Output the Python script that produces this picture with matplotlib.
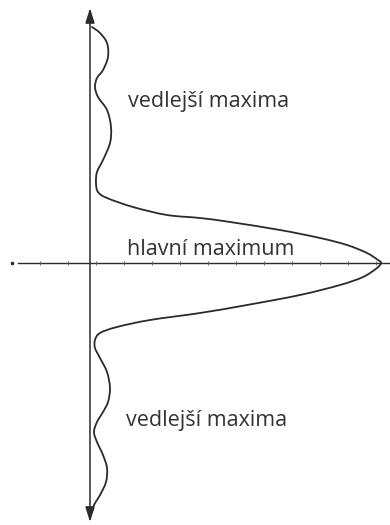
# Diffraction intensity profile (hlavní / vedlejší maxima)

# Libraries
import numpy as np
import matplotlib.pyplot as plt
from matplotlib.path import Path
from matplotlib.patches import PathPatch

# Data (intensity vs. position, pixel-like units)
intensity = [2, 10, 17, 18, 13, 7, 5, 8, 17, 21, 20, 13, 7, 6, 8, 17, 43, 77,
             110, 140, 190, 230, 257, 277, 288, 291,
             287, 273, 250, 210, 157, 110, 60, 27, 10, 5, 5, 10, 17, 20, 18,
             13, 7, 4, 7, 13, 17, 16, 10, 4, 2]
position = [236, 230, 220, 206, 193, 185, 176, 166, 153, 136, 120, 103, 91, 80,
            71, 65, 56, 48, 45, 41, 33, 25, 18, 10, 3, 0,
            -5, -14, -22, -32, -42, -50, -57, -64, -70, -77, -85, -95, -109,
            -125, -139, -149, -159, -169, -179, -192, -205, -219, -232, -242,
            -249]

labels = ["vedlejší maxima", "hlavní maximum", "vedlejší maxima"]
label_pos = [(38, 156), (37, 8), (36, -163)]

# Setup/Config
plt.rcParams["font.family"] = ["Open Sans", "DejaVu Sans"]
line_color = "#2b2b2b"
text_color = "#333333"


# Functions
def smooth_path(xs, ys):
    """
    Bezier path through the traced points (Catmull-Rom style handles).

    """
    pts = np.column_stack([xs, ys]).astype(float)
    n = len(pts)
    verts = [pts[0]]
    codes = [Path.MOVETO]
    for i in range(n - 1):
        p0 = pts[max(i - 1, 0)]
        p1 = pts[i]
        p2 = pts[i + 1]
        p3 = pts[min(i + 2, n - 1)]
        verts += [p1 + (p2 - p0) / 6, p2 - (p3 - p1) / 6, p2]
        codes += [Path.CURVE4] * 3
    return Path(verts, codes)


# Figure
fig = plt.figure(figsize=[3.9, 5.25], dpi=100)
ax = fig.add_axes([0, 0, 1, 1])
ax.set_xlim(-90, 300)
ax.set_ylim(-262, 263)
ax.axis("off")

# Horizontal dash-dot line (optical axis)
ax.plot([-78], [0], marker="o", markersize=1.6, color=line_color)
ax.plot([-72, 300], [0, 0], color=line_color, lw=1.0)
ticks = np.arange(-50, 300, 28)
ax.plot(ticks, np.zeros_like(ticks), ls="none", marker="|", markersize=2.2,
        markeredgewidth=0.6, color="#555555")

# Vertical axis with arrows at both ends
ax.annotate("", xy=(0, 255), xytext=(0, -259),
            arrowprops=dict(arrowstyle="<|-|>,head_length=0.9,head_width=0.28",
                            mutation_scale=10, color=line_color, lw=1.1,
                            shrinkA=0, shrinkB=0))

# Intensity curve
ax.add_patch(PathPatch(smooth_path(intensity, position), fill=False,
                       edgecolor=line_color, lw=1.3, joinstyle="round",
                       capstyle="round"))

# Labels
for (t, (x, y)) in zip(labels, label_pos):
    ax.text(x, y, t, fontsize=15.5, color=text_color, ha="left", va="baseline")

plt.savefig("out.png", dpi=100)
